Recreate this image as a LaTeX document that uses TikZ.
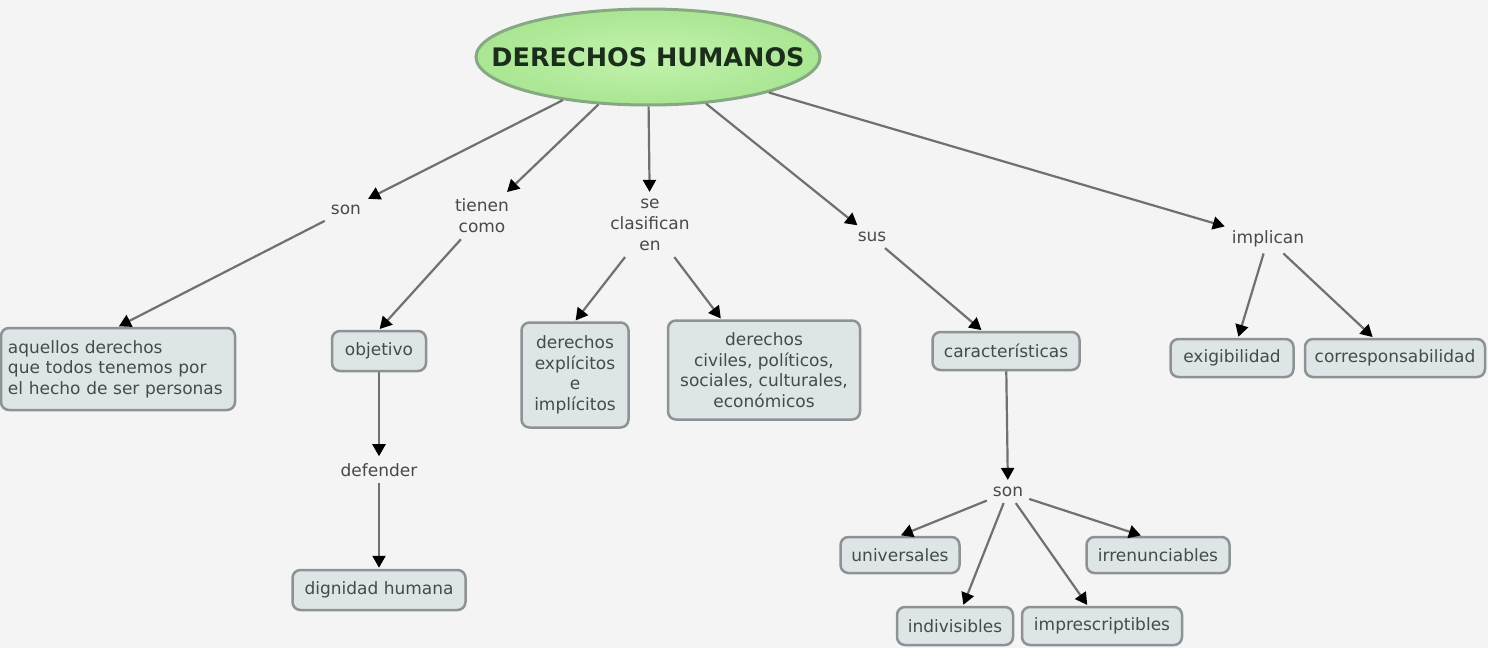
\documentclass[tikz,border=0pt]{standalone}
\usepackage{fontspec}
\setmainfont{DejaVu Sans}
\usetikzlibrary{shapes.geometric,arrows.meta}
\definecolor{bgc}{HTML}{F4F4F4}
\definecolor{boxfill}{HTML}{DDE5E7}
\definecolor{boxline}{HTML}{8E9294}
\definecolor{txt}{HTML}{464A4A}
\definecolor{lnk}{HTML}{707070}
\definecolor{greenin}{HTML}{C4F2AE}
\definecolor{greenout}{HTML}{A9E692}
\definecolor{greenline}{HTML}{86A883}
\definecolor{titletxt}{HTML}{1B2E1B}
\tikzset{
  titlenode/.style={ellipse, inner color=greenin, outer color=greenout,
    draw=greenline, line width=3pt,
    minimum width=344pt, minimum height=96pt, inner sep=0pt, text=titletxt,
    font=\fontsize{25.5}{30}\selectfont\bfseries},
  linknode/.style={inner sep=6pt, align=center, text=txt,
    font=\fontsize{17}{21}\selectfont},
  concept/.style={rectangle, rounded corners=8pt, fill=boxfill, draw=boxline,
    line width=2.5pt, align=center, text=txt, inner sep=3pt,
    font=\fontsize{17}{20.5}\selectfont},
  conn/.style={draw=lnk, line width=2.2pt,
    -{Triangle[width=13pt,length=12pt,color=black]}, shorten >=1pt}
}
\begin{document}
\begin{tikzpicture}[x=1pt,y=-1pt]
\fill[bgc] (0,0) rectangle (1488,648);
\useasboundingbox (0,0) rectangle (1488,648);

% title
\node[titlenode] (dh) at (648,57) {\makebox[0pt]{DERECHOS HUMANOS}};

% linking phrases
\node[linknode] (son1) at (346,210) {son};
\node[linknode] (tc) at (482,216) {tienen\\como};
\node[linknode] (sc) at (650,225) {se\\clasifican\\en};
\node[linknode] (sus) at (872,237) {sus};
\node[linknode] (imp) at (1268,239) {implican};
\node[linknode] (def) at (379,470) {defender};
\node[linknode] (son2) at (1008,492) {son};

% concepts
\node[concept, minimum width=234pt, minimum height=82pt, align=left,
      text width=220pt, inner xsep=6pt] (aq) at (118,369)
  {aquellos derechos\\que todos tenemos por\\el hecho de ser personas};
\node[concept, minimum width=94pt, minimum height=40pt] (obj) at (379,351) {objetivo};
\node[concept, minimum width=173pt, minimum height=40pt] (dig) at (379,590) {dignidad humana};
\node[concept, minimum width=107pt, minimum height=105pt] (exp) at (575,375)
  {derechos\\explícitos\\e\\implícitos};
\node[concept, minimum width=192pt, minimum height=99pt] (civ) at (764,370)
  {derechos\\civiles, políticos,\\sociales, culturales,\\económicos};
\node[concept, minimum width=147pt, minimum height=38pt] (car) at (1006,351) {características};
\node[concept, minimum width=123pt, minimum height=38pt] (exi) at (1232,358) {exigibilidad};
\node[concept, minimum width=180pt, minimum height=38pt] (cor) at (1395,358) {corresponsabilidad};
\node[concept, minimum width=119pt, minimum height=36pt] (uni) at (900,555) {universales};
\node[concept, minimum width=143pt, minimum height=36pt] (irr) at (1158,555) {irrenunciables};
\node[concept, minimum width=116pt, minimum height=38pt] (ind) at (955,626) {indivisibles};
\node[concept, minimum width=160pt, minimum height=38pt] (pre) at (1102,626) {imprescriptibles};

% connectors
\draw[conn] (dh) -- (son1);
\draw[conn] (dh) -- (tc);
\draw[conn] (dh) -- (sc);
\draw[conn] (dh) -- (sus);
\draw[conn] (dh) -- (imp);
\draw[conn] (son1) -- (aq.north);
\draw[conn] (tc) -- (obj.north);
\draw[conn] (obj) -- (def);
\draw[conn] (def) -- (dig);
\draw[conn] (sc) -- (exp.north);
\draw[conn] (sc) -- (civ.130);
\draw[conn] (sus) -- (car);
\draw[conn] (car) -- (son2);
\draw[conn] (son2) -- (uni.north);
\draw[conn] (son2) -- (ind);
\draw[conn] (son2) -- (pre);
\draw[conn] (son2) -- (irr.130);
\draw[conn] (imp) -- (exi);
\draw[conn] (imp) -- (cor);
\end{tikzpicture}
\end{document}
